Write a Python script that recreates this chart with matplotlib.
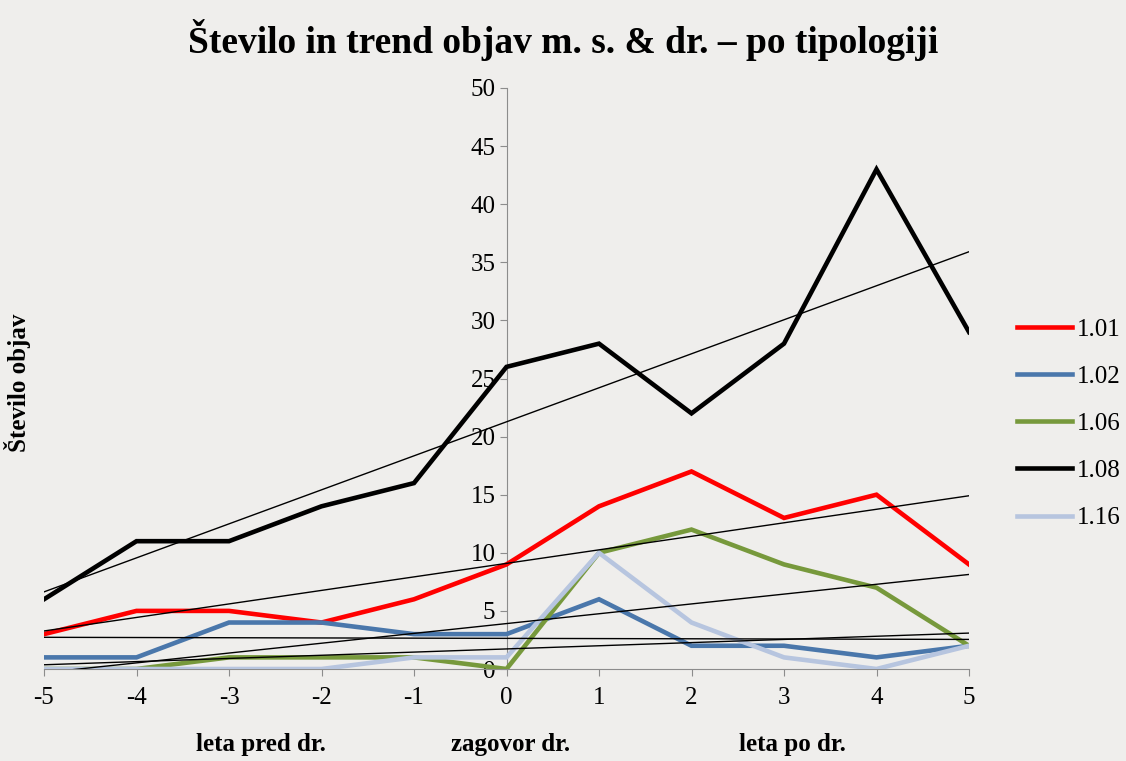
import matplotlib.pyplot as plt
import numpy as np

plt.rcParams["font.family"] = ["Liberation Serif", "DejaVu Serif"]
plt.rcParams["axes.unicode_minus"] = False

years = [-5, -4, -3, -2, -1, 0, 1, 2, 3, 4, 5]
series_names = ["1.01", "1.02", "1.06", "1.08", "1.16"]
s101 = [3, 5, 5, 4, 6, 9, 14, 17, 13, 15, 9]
s102 = [1, 1, 4, 4, 3, 3, 6, 2, 2, 1, 2]
s106 = [0, 0, 1, 1, 1, 0, 10, 12, 9, 7, 2]
s108 = [6, 11, 11, 14, 16, 26, 28, 22, 28, 43, 29]
s116 = [0, 0, 0, 0, 1, 1, 10, 4, 1, 0, 2]
colors = ["#ff0000", "#4a77ab", "#77993c", "#000000", "#b7c5df"]

bg = "#efeeec"
fig = plt.figure(figsize=(11.26, 7.61), dpi=100, facecolor=bg)
ax = fig.add_axes([44 / 1126, 1 - 669 / 761, (969 - 44) / 1126, (669 - 88) / 761])
ax.set_facecolor("none")

x = np.array(years)
all_series = [s101, s102, s106, s108, s116]
handles = []
for name, vals, c in zip(series_names, all_series, colors):
	h, = ax.plot(x, vals, color=c, lw=3.3, solid_joinstyle="miter", label=name, zorder=3)
	handles.append(h)

# linear trend lines
for vals in all_series:
	k, n = np.polyfit(x, vals, 1)
	ax.plot([-5, 5], [k * -5 + n, k * 5 + n], color="black", lw=1.0, zorder=4)

ax.set_xlim(-5, 5)
ax.set_ylim(0, 50)
ax.set_xticks(years)
ax.set_yticks(range(0, 51, 5))
ax.spines["top"].set_visible(False)
ax.spines["right"].set_visible(False)
ax.spines["left"].set_position(("data", 0))
ax.spines["left"].set_color("#8c8c8c")
ax.spines["bottom"].set_color("#8c8c8c")
ax.tick_params(axis="y", colors="#8c8c8c", labelcolor="black", labelsize=18, length=5, pad=3)
ax.tick_params(axis="x", colors="#8c8c8c", labelcolor="black", labelsize=18, length=5, pad=8)

fig.text(0.5, 1 - 40 / 761, "Število in trend objav m. s. & dr. \u2013 po tipologiji",
		 ha="center", va="center", fontsize=27, fontweight="bold")
fig.text(18 / 1126, 1 - 383 / 761, "Število objav", rotation=90, ha="center", va="center",
		 fontsize=18, fontweight="bold")
for label, px in [("leta pred dr.", 261), ("zagovor dr.", 511), ("leta po dr.", 792)]:
	fig.text(px / 1126, 1 - 745 / 761, label, ha="center", va="center", fontsize=18, fontweight="bold")

fig.legend(handles=handles, loc="center left", bbox_to_anchor=(1017 / 1126, 1 - 424 / 761),
		   frameon=False, fontsize=18, handlelength=2.2, handletextpad=0.2, labelspacing=0.98,
		   borderaxespad=0, borderpad=0)

fig.savefig("out.png", dpi=100, facecolor=bg)
